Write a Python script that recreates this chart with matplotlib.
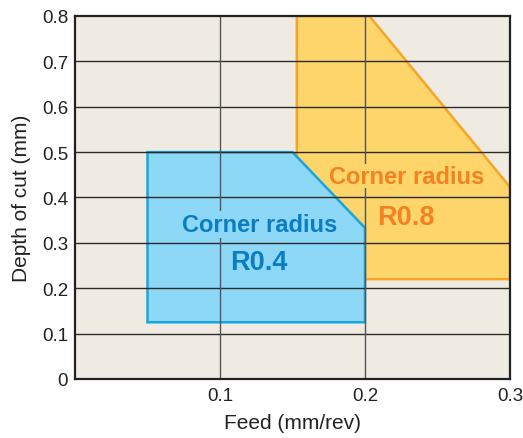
import matplotlib
matplotlib.use("Agg")
import matplotlib.pyplot as plt
from matplotlib.patches import Polygon

plt.rcParams['font.family'] = ['Liberation Sans', 'DejaVu Sans']

# Data
r08_feed = [0.153, 0.153, 0.203, 0.300, 0.300]
r08_depth = [0.220, 0.800, 0.800, 0.423, 0.220]
r04_feed = [0.050, 0.050, 0.150, 0.200, 0.200]
r04_depth = [0.125, 0.500, 0.500, 0.333, 0.125]
x_ticks = [0.1, 0.2, 0.3]
x_labels = ["0.1", "0.2", "0.3"]
y_ticks = [0, 0.1, 0.2, 0.3, 0.4, 0.5, 0.6, 0.7, 0.8]
y_labels = ["0", "0.1", "0.2", "0.3", "0.4", "0.5", "0.6", "0.7", "0.8"]

bg = "#efebe3"
orange_fill = "#fdd56b"
orange_edge = "#f6a623"
orange_text = "#f58220"
blue_fill = "#8dd8f6"
blue_edge = "#17a6df"
blue_text = "#0b7dc3"

fig = plt.figure(figsize=(5.23, 4.39), dpi=100)
ax = fig.add_axes([0.1434, 0.1344, 0.9751 - 0.1434, 0.9613 - 0.1344])
ax.set_facecolor(bg)
ax.set_xlim(0, 0.3)
ax.set_ylim(0, 0.8)

ax.add_patch(Polygon(list(zip(r08_feed, r08_depth)), closed=True,
                     facecolor=orange_fill, edgecolor=orange_edge, lw=1.8, zorder=1))
ax.add_patch(Polygon(list(zip(r04_feed, r04_depth)), closed=True,
                     facecolor=blue_fill, edgecolor=blue_edge, lw=1.8, zorder=1.5))

# grid lines
for y in y_ticks[1:-1]:
    ax.axhline(y, color="#2b2b2b", lw=1.0, zorder=2)
for x in x_ticks[:-1]:
    ax.axvline(x, color="#555555", lw=1.0, zorder=2)

ax.set_xticks(x_ticks)
ax.set_xticklabels(x_labels)
ax.set_yticks(y_ticks)
ax.set_yticklabels(y_labels)
ax.tick_params(axis='both', length=0, labelsize=13.5, colors="#222222")
ax.tick_params(axis='x', pad=6)
ax.tick_params(axis='y', pad=5)

for s in ax.spines.values():
    s.set_color("#222222")
    s.set_linewidth(1.6)
    s.set_zorder(4)

ax.set_xlabel("Feed (mm/rev)", fontsize=15, color="#222222", labelpad=6)
ax.set_ylabel("Depth of cut (mm)", fontsize=15, color="#222222", labelpad=8)

ax.text(0.127, 0.34, "Corner radius", ha='center', va='center', fontsize=17,
        fontweight='bold', color=blue_text, zorder=3,
        bbox=dict(facecolor=blue_fill, edgecolor='none', pad=1.5))
ax.text(0.127, 0.258, "R0.4", ha='center', va='center', fontsize=19.5,
        fontweight='bold', color=blue_text, zorder=3,
        bbox=dict(facecolor=blue_fill, edgecolor='none', pad=1.5))
ax.text(0.229, 0.4465, "Corner radius", ha='center', va='center', fontsize=17,
        fontweight='bold', color=orange_text, zorder=3,
        bbox=dict(facecolor=orange_fill, edgecolor='none', pad=0.3))
ax.text(0.2285, 0.358, "R0.8", ha='center', va='center', fontsize=19.5,
        fontweight='bold', color=orange_text, zorder=3)

fig.savefig("out.png", dpi=100)
